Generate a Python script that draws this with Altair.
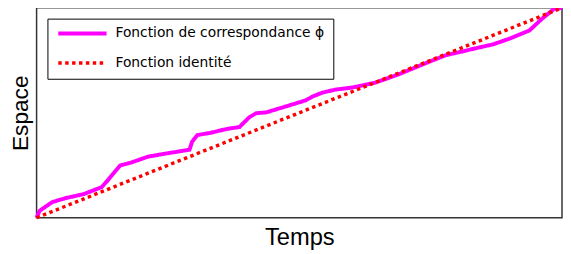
import altair as alt
import pandas as pd

series_names = ["Fonction de correspondance ϕ", "Fonction identité"]

phi_t = [0, 0.56, 3.0, 5.6, 9.0, 12.4, 13.7, 15.9, 18.0, 21.2, 24.4, 29.1, 29.6, 30.6,
         33.0, 36.2, 38.6, 40.5, 41.8, 43.7, 46.9, 49.9, 51.2, 52.5, 54.4, 56.8, 60.0,
         64.4, 68.7, 71.9, 75.0, 78.0, 81.2, 83.7, 86.9, 90.1, 93.8, 96.2, 98.5, 100]
phi_s = [0, 3.3, 7.5, 9.4, 11.3, 14.6, 18.3, 24.9, 26.3, 29.1, 30.5, 32.4, 36.2, 39.4,
         40.4, 42.3, 43.2, 47.9, 49.8, 50.2, 52.6, 54.9, 55.9, 57.7, 59.6, 61.0, 62.0,
         64.3, 68.1, 71.4, 74.6, 77.5, 79.3, 80.8, 82.6, 85.4, 89.2, 94.8, 99.5, 100]

id_t = [0, 100]
id_s = [0, 100]

rows = []
for i, (t, s) in enumerate(zip(phi_t, phi_s)):
    rows.append({"serie": series_names[0], "t": t, "s": s, "o": i})
for i, (t, s) in enumerate(zip(id_t, id_s)):
    rows.append({"serie": series_names[1], "t": t, "s": s, "o": i})
df = pd.DataFrame(rows)

font = "Liberation Sans"
lfont = "DejaVu Sans"

chart = alt.Chart(df).mark_line(strokeCap="butt").encode(
    x=alt.X("t:Q", scale=alt.Scale(domain=[0, 100], nice=False, zero=False),
            axis=alt.Axis(title="Temps", labels=False, ticks=False, domain=False, grid=False,
                          titleFont=font, titleFontSize=24, titleFontWeight="normal",
                          titleColor="black", titlePadding=8)),
    y=alt.Y("s:Q", scale=alt.Scale(domain=[0, 100], nice=False, zero=False),
            axis=alt.Axis(title="Espace", labels=False, ticks=False, domain=False, grid=False,
                          titleFont=font, titleFontSize=23, titleFontWeight="normal",
                          titleColor="black", titlePadding=4)),
    color=alt.Color("serie:N", scale=alt.Scale(domain=series_names, range=["#FF00FF", "#FF0000"]),
                    legend=alt.Legend(title=None, orient="top-left", offset=11,
                                      symbolType="stroke", symbolSize=2401, clipHeight=12,
                                      rowPadding=16, padding=9, labelOffset=7, labelLimit=0,
                                      labelFont=lfont, labelFontSize=14, labelColor="black",
                                      strokeColor="black", fillColor="white",
                                      cornerRadius=0)),
    strokeDash=alt.StrokeDash("serie:N", scale=alt.Scale(domain=series_names, range=[[1, 0], [3.5, 3.5]]),
                              legend=alt.Legend(title=None)),
    strokeWidth=alt.StrokeWidth("serie:N", scale=alt.Scale(domain=series_names, range=[4, 3.5]),
                                legend=alt.Legend(title=None)),
    order="o:Q",
).properties(
    width=533, height=213,
    autosize=alt.AutoSizeParams(type="none"),
    padding={"left": 29, "top": -2, "right": 1, "bottom": 37},
).configure_view(
    stroke="#333333", strokeWidth=1.5
)

chart.save("out.html", embed_options={"renderer": "svg", "actions": False})
